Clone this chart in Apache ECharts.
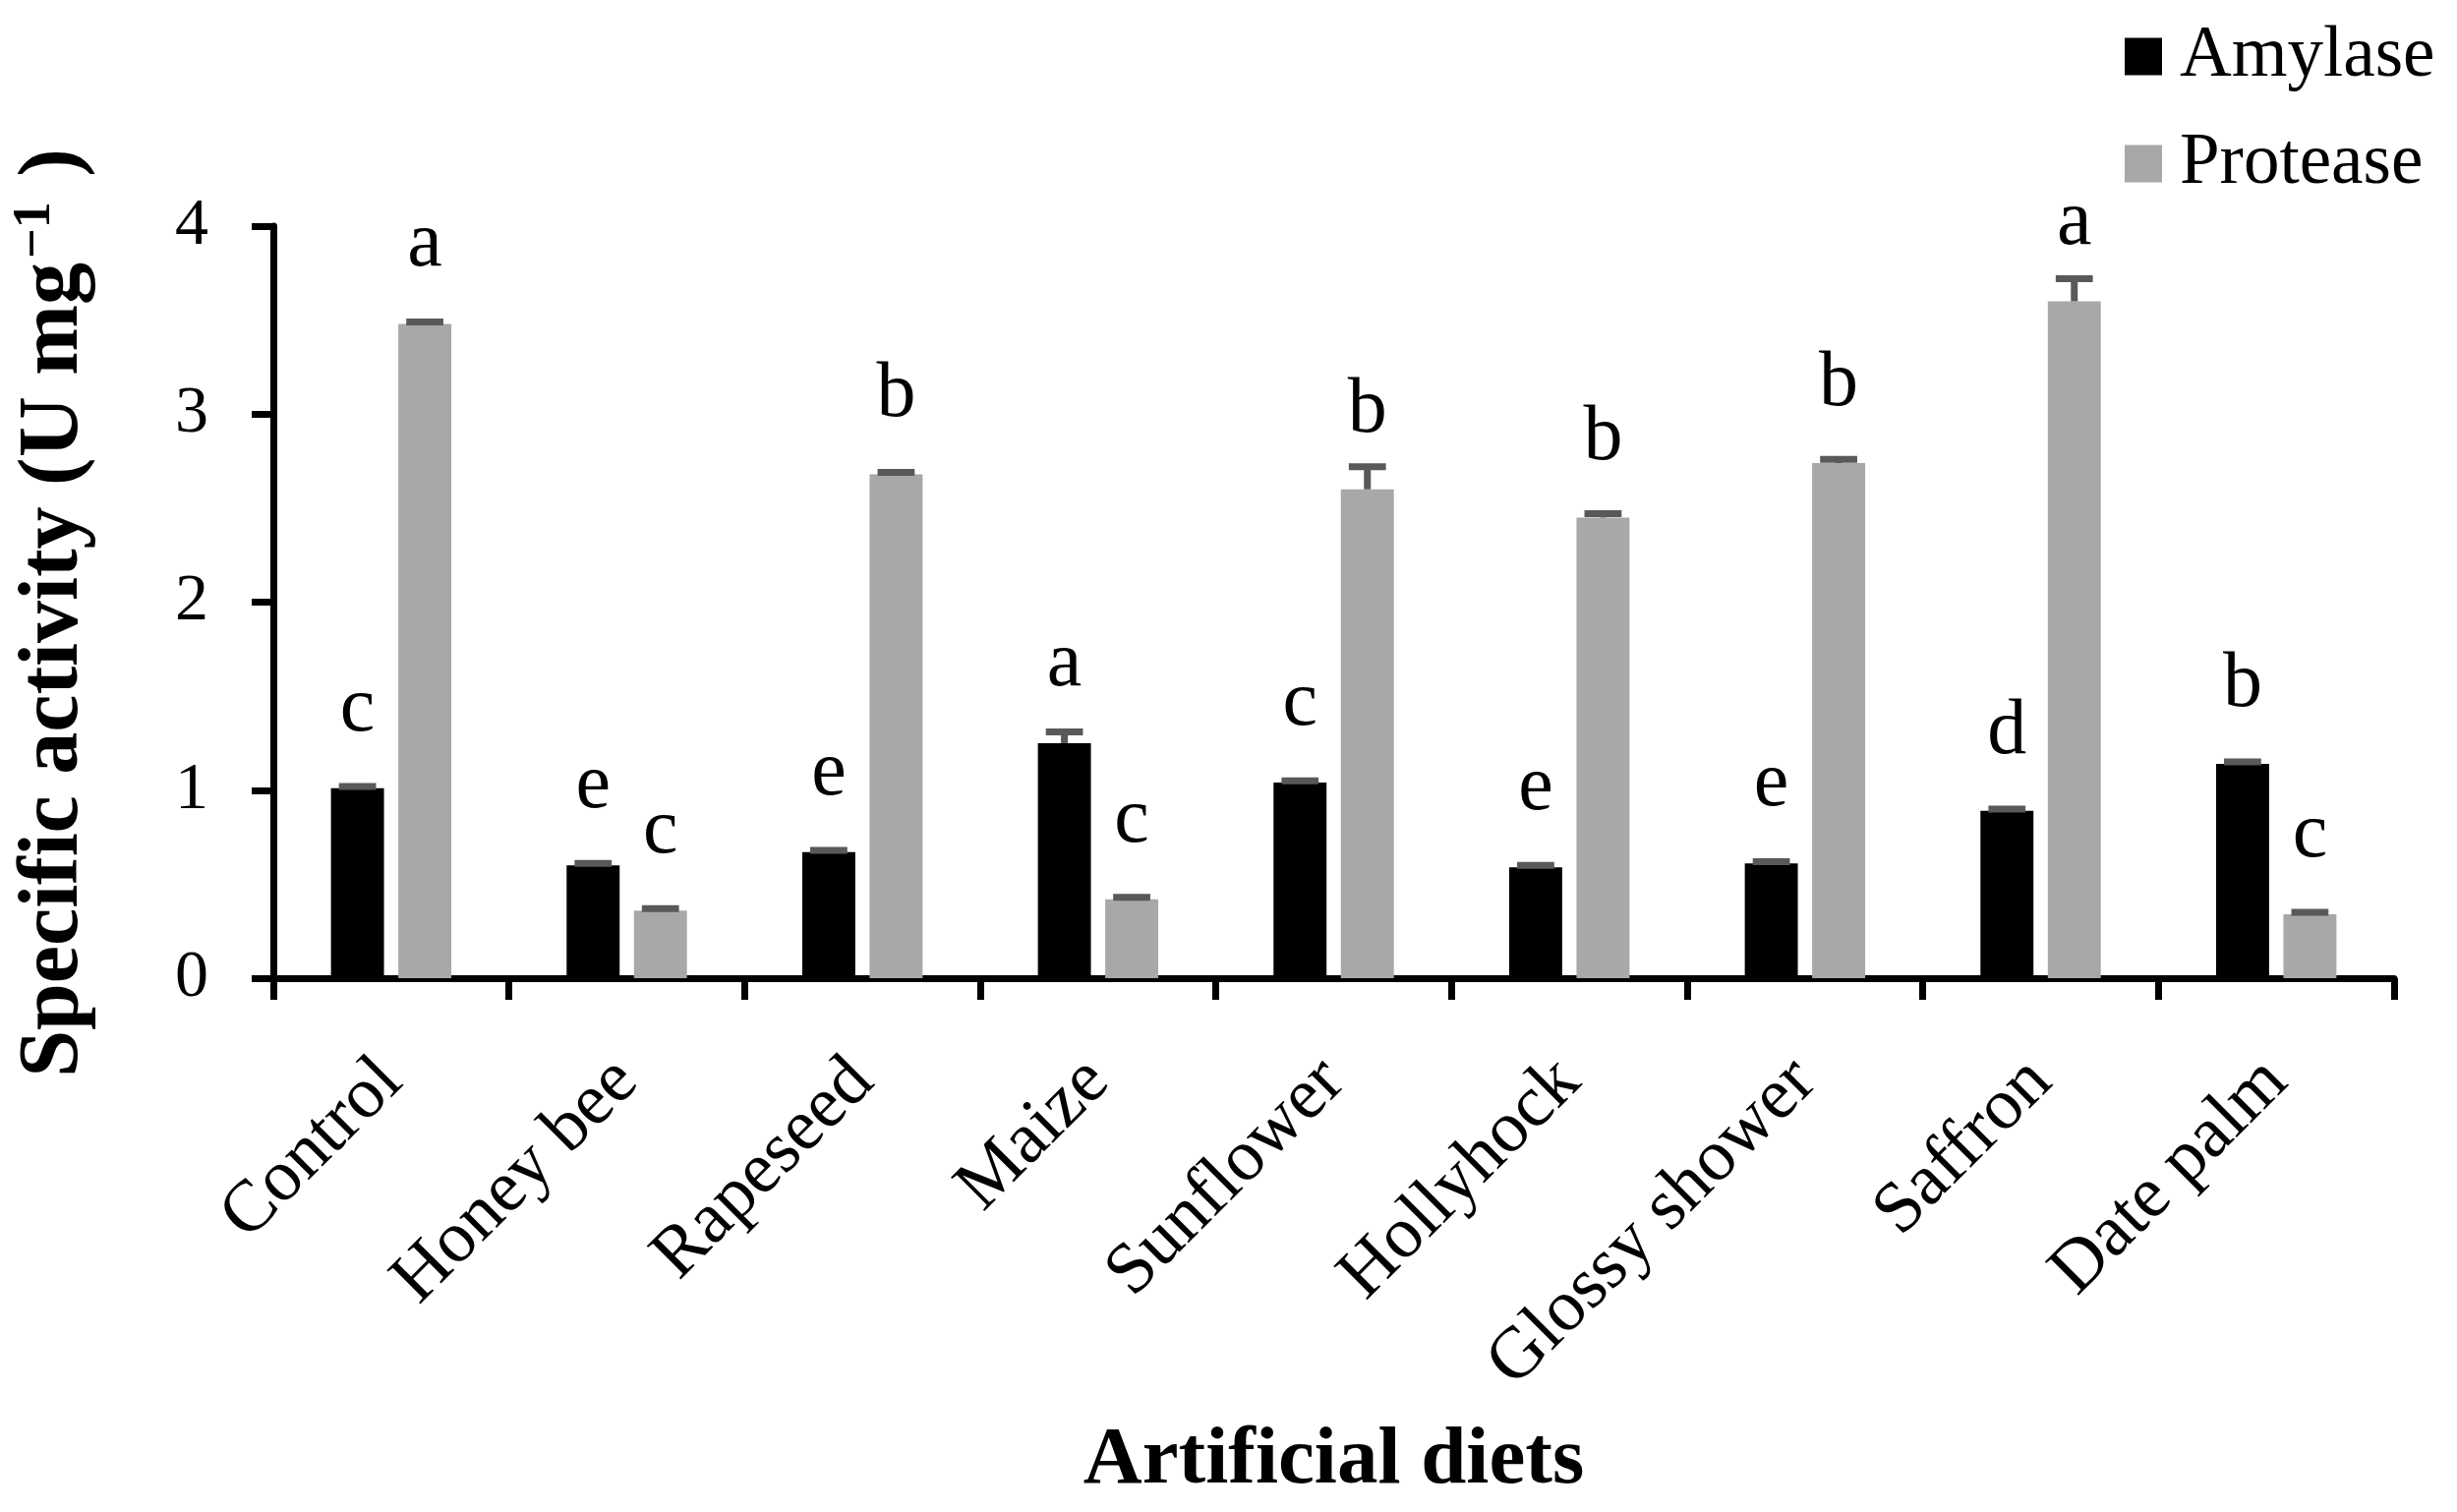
<!DOCTYPE html>
<html>
<head>
<meta charset="utf-8">
<script src="https://cdn.jsdelivr.net/npm/echarts@6/dist/echarts.min.js"></script>
<style>
html,body{margin:0;padding:0;background:#fff;}
#chart{width:2499px;height:1538px;}
</style>
</head>
<body>
<div id="chart"></div>
<script>
var categories = ['Control','Honey bee','Rapeseed','Maize','Sunflower','Hollyhock','Glossy shower','Saffron','Date palm'];
var amylase = [1.01, 0.60, 0.67, 1.25, 1.04, 0.59, 0.61, 0.89, 1.14];
var protease = [3.48, 0.36, 2.68, 0.42, 2.60, 2.45, 2.74, 3.60, 0.34];
var amylaseErr = [0.01, 0.01, 0.01, 0.06, 0.01, 0.01, 0.01, 0.01, 0.01];
var proteaseErr = [0.01, 0.01, 0.01, 0.01, 0.12, 0.02, 0.02, 0.12, 0.01];
var amylaseLetters = ['c','e','e','a','c','e','e','d','b'];
var proteaseLetters = ['a','c','b','c','b','b','b','a','c'];
var yTicks = [0, 1, 2, 3, 4];

var FONT = 'Liberation Serif';
var BAR_FRAC = 0.225;
var GAP_FRAC = 0.27;

function errSeries(values, errs, sign) {
  return {
    type: 'custom',
    z: 5,
    silent: true,
    data: values.map(function (v, i) { return [i, v, errs[i]]; }),
    renderItem: function (params, api) {
      var i = api.value(0), v = api.value(1), e = api.value(2);
      var band = api.size([1, 0])[0];
      var bw = band * BAR_FRAC;
      var off = sign * (bw + bw * GAP_FRAC) / 2;
      var p0 = api.coord([i, v]);
      var p1 = api.coord([i, v + e]);
      var x = p0[0] + off;
      var capHalf = bw * 0.35;
      var st = { stroke: '#595959', lineWidth: 7 };
      return {
        type: 'group',
        children: [
          { type: 'line', shape: { x1: x, y1: p0[1], x2: x, y2: p1[1] }, style: st },
          { type: 'line', shape: { x1: x - capHalf, y1: p1[1], x2: x + capHalf, y2: p1[1] }, style: st }
        ]
      };
    }
  };
}

var chart = echarts.init(document.getElementById('chart'));
chart.setOption({
  backgroundColor: '#ffffff',
  animation: false,
  textStyle: { fontFamily: FONT },
  legend: {
    orient: 'vertical',
    left: 2156,
    top: 16,
    itemWidth: 38,
    itemHeight: 38,
    itemGap: 36,
    icon: 'rect',
    data: ['Amylase', 'Protease'],
    textStyle: { fontFamily: FONT, fontSize: 73, color: '#000', lineHeight: 73, padding: [0, 0, 0, 13] }
  },
  grid: { left: 278, right: 64, top: 230, bottom: 543, containLabel: false },
  xAxis: {
    type: 'category',
    data: categories,
    boundaryGap: true,
    name: 'Artificial diets',
    nameLocation: 'middle',
    nameGap: 450,
    nameTextStyle: { fontFamily: FONT, fontSize: 83, fontWeight: 'bold', color: '#000' },
    axisLine: { lineStyle: { color: '#000', width: 7 } },
    axisTick: { show: true, length: 22, lineStyle: { color: '#000', width: 7 } },
    axisLabel: { rotate: 45, margin: 94, fontFamily: FONT, fontSize: 74, color: '#000', interval: 0 }
  },
  yAxis: {
    type: 'value',
    min: 0,
    max: 4,
    interval: 1,
    name: '{t|Specific activity (U mg}{s|−1}{t| )}',
    nameLocation: 'middle',
    nameGap: 179,
    nameTextStyle: {
      fontFamily: FONT, fontSize: 86, fontWeight: 'bold', color: '#000',
      padding: [0, 22, 0, 0],
      rich: {
        t: { fontFamily: FONT, fontSize: 86, fontWeight: 'bold', color: '#000', lineHeight: 90, verticalAlign: 'bottom' },
        s: { fontFamily: FONT, fontSize: 54, fontWeight: 'bold', color: '#000', lineHeight: 90, verticalAlign: 'top', padding: [0, 4, 0, 4] }
      }
    },
    splitLine: { show: false },
    axisLine: { show: true, lineStyle: { color: '#000', width: 7 } },
    axisTick: { show: true, length: 22, lineStyle: { color: '#000', width: 7 } },
    axisLabel: {
      margin: 66, fontFamily: FONT, fontSize: 68, color: '#000',
      formatter: function (v) { return yTicks.indexOf(v) >= 0 ? String(v) : ''; }
    }
  },
  series: [
    {
      name: 'Amylase', type: 'bar', data: amylase,
      barWidth: (BAR_FRAC * 100) + '%', barGap: (GAP_FRAC * 100) + '%',
      itemStyle: { color: '#000000' },
      label: {
        show: true, position: 'top', distance: 40,
        fontFamily: FONT, fontSize: 80, color: '#000',
        formatter: function (p) { return amylaseLetters[p.dataIndex]; }
      }
    },
    {
      name: 'Protease', type: 'bar', data: protease,
      barWidth: (BAR_FRAC * 100) + '%', barGap: (GAP_FRAC * 100) + '%',
      itemStyle: { color: '#a8a8a8' },
      label: {
        show: true, position: 'top', distance: 40,
        fontFamily: FONT, fontSize: 80, color: '#000',
        formatter: function (p) { return proteaseLetters[p.dataIndex]; }
      }
    },
    errSeries(amylase, amylaseErr, -1),
    errSeries(protease, proteaseErr, 1)
  ]
});
</script>
</body>
</html>
